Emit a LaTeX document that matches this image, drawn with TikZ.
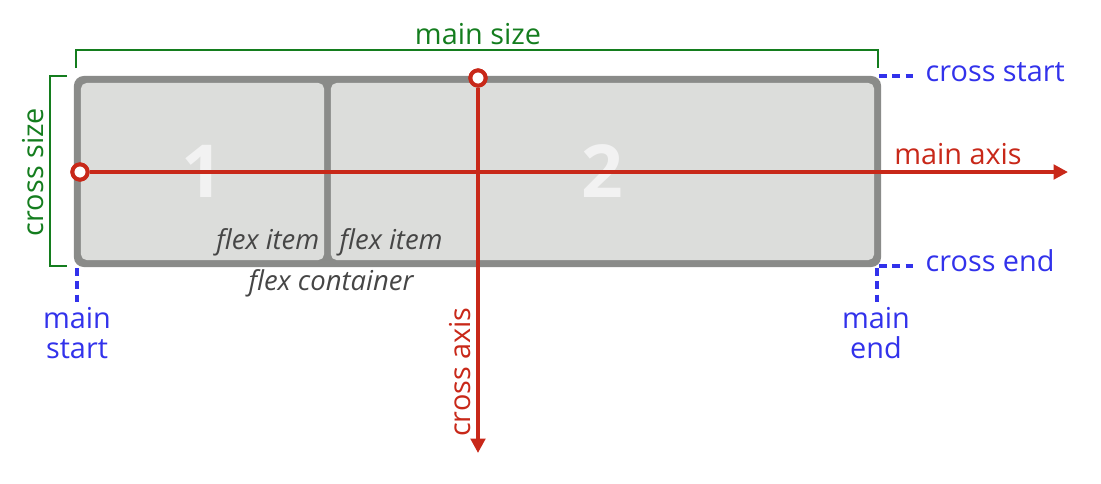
\documentclass[tikz,border=0pt]{standalone}
\usepackage{fontspec}
\setmainfont{Open Sans}
\usetikzlibrary{arrows.meta,positioning}
\definecolor{SizeGreen}{RGB}{20,125,30}
\definecolor{EdgeBlue}{RGB}{50,50,235}
\definecolor{AxisRed}{RGB}{200,40,25}
\definecolor{BorderGray}{RGB}{138,139,137}
\definecolor{ItemGray}{RGB}{220,221,219}
\definecolor{LabelGray}{RGB}{70,70,70}

\begin{document}
\begin{tikzpicture}[x=0.025cm, y=-0.025cm,
	container/.style={fill=BorderGray, rounded corners=7pt, minimum width=20.175cm, minimum height=4.775cm, inner sep=0pt},
	item/.style={fill=ItemGray, rounded corners=4pt, minimum height=4.425cm, inner sep=0pt,
		text=white!95!black, font=\fontsize{52}{60}\selectfont\bfseries},
	axis/.style={AxisRed, line width=2.8pt, -{Triangle[length=0.36cm, width=0.36cm]}},
	origin/.style={circle, draw=AxisRed, line width=2.8pt, fill=white, minimum size=0.38cm, inner sep=0pt},
	sizeline/.style={SizeGreen, line width=1.8pt},
	edgeline/.style={EdgeBlue, line width=2.8pt, dash pattern=on 5.5pt off 4pt},
	biglabel/.style={font=\fontsize{20.5}{22}\selectfont, inner sep=1pt},
	itemlabel/.style={font=\fontsize{19.5}{22}\selectfont\itshape, text=LabelGray, inner sep=1pt}
	]
	\useasboundingbox (0,0) rectangle (1101,483);

	% flex container and its two items
	\node[container] (box) at (477.5,171.5) {};
	\node[item, minimum width=6.075cm] (one) at (202.5,171.5) {1};
	\node[item, minimum width=13.575cm] (two) at (602.5,171.5) {2};
	\node[itemlabel, anchor=east] (lbl1) at (321,242) {flex item};
	\node[itemlabel, anchor=west] (lbl2) at (338,242) {flex item};
	\node[itemlabel] (lblbox) at (331,283) {flex container};

	% sizes
	\coordinate (ms1) at (76,68);
	\coordinate (ms2) at (878,68);
	\draw[sizeline] (ms1) -- (76,50) -- (878,50) -- (ms2);
	\node[biglabel, SizeGreen] (mainsize) at (478,34) {main size};
	\coordinate (cs1) at (67,76);
	\coordinate (cs2) at (67,266);
	\draw[sizeline] (cs1) -- (50,76) -- (50,266) -- (cs2);
	\node[biglabel, SizeGreen, rotate=90] (crosssize) at (33,172) {cross size};

	% start and end marks
	\node[biglabel, EdgeBlue, anchor=west] (cstart) at (924,72) {cross start};
	\node[biglabel, EdgeBlue, anchor=west] (cend) at (924,261) {cross end};
	\node[biglabel, EdgeBlue, align=center, anchor=north] (mstart) at (77,306) {main\\[-1pt]start};
	\node[biglabel, EdgeBlue, align=center, anchor=north] (mend) at (876,306) {main\\[-1pt]end};
	\coordinate (tr) at (879,76);
	\coordinate (br) at (879,266);
	\coordinate (bl) at (77,268);
	\coordinate (brv) at (877,268);
	\draw[edgeline] (tr) -- ([xshift=-4pt]tr -| cstart.west);
	\draw[edgeline] (br) -- ([xshift=-4pt]br -| cend.west);
	\draw[edgeline] (bl) -- ([yshift=3pt]bl |- mstart.north);
	\draw[edgeline] (brv) -- ([yshift=3pt]brv |- mend.north);

	% axes
	\node[origin] (mo) at (80,172) {};
	\node[origin] (co) at (478,78) {};
	\coordinate (mtip) at (1068,172);
	\coordinate (ctip) at (478,453);
	\draw[axis] (mo.east) -- (mtip);
	\draw[axis] (co.south) -- (ctip);
	\node[origin] at (mo) {};
	\node[origin] at (co) {};
	\node[biglabel, AxisRed] (mainaxis) at (958,154) {main axis};
	\node[biglabel, AxisRed, rotate=90] (crossaxis) at (460,372) {cross axis};
\end{tikzpicture}
\end{document}
